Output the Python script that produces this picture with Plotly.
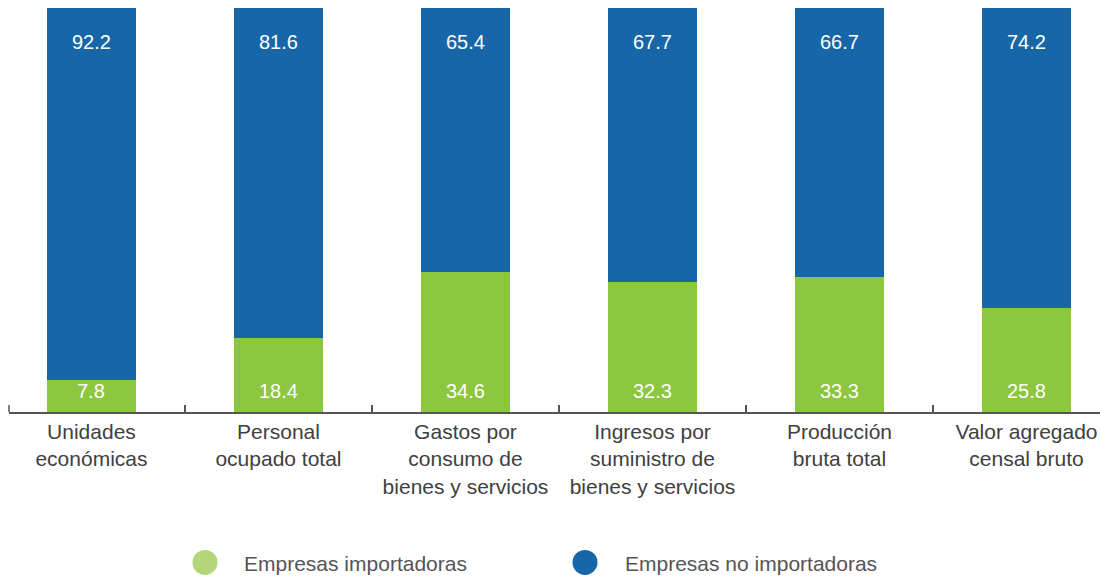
import plotly.graph_objects as go

categories = ["Unidades<br>económicas", "Personal<br>ocupado total",
              "Gastos por<br>consumo de<br>bienes y servicios",
              "Ingresos por<br>suministro de<br>bienes y servicios",
              "Producción<br>bruta total", "Valor agregado<br>censal bruto"]
importadoras = [7.8, 18.4, 34.6, 32.3, 33.3, 25.8]
no_importadoras = [92.2, 81.6, 65.4, 67.7, 66.7, 74.2]

GREEN = "#8dc63f"
BLUE = "#1766a7"
LEG_GREEN = "#b3d67b"
FONT = "Liberation Sans, Arial, sans-serif"

W, H = 1100, 576
L, T, B = 9, 8, 164.3
PW, PH = W - L, H - T - B

fig = go.Figure()
fig.add_trace(go.Bar(x=categories, y=importadoras, marker_color=GREEN,
                     marker_line_width=0, width=0.476, name="Empresas importadoras",
                     showlegend=False, hoverinfo="skip"))
fig.add_trace(go.Bar(x=categories, y=no_importadoras, marker_color=BLUE,
                     marker_line_width=0, width=0.476, name="Empresas no importadoras",
                     showlegend=False, hoverinfo="skip"))

anns = []
for c, g, b in zip(categories, importadoras, no_importadoras):
    anns.append(dict(x=c, y=5.1, text=f"{g}", showarrow=False, xref="x", yref="y",
                     font=dict(family=FONT, size=20, color="white")))
    anns.append(dict(x=c, y=91.6, text=f"{b}", showarrow=False, xref="x", yref="y",
                     font=dict(family=FONT, size=20, color="white")))

# legend drawn manually (pixel positions relative to the figure)
legend_items = [("Empresas importadoras", LEG_GREEN, 205, 242),
                ("Empresas no importadoras", BLUE, 585, 623)]
shapes = []
cy = 562
for label, col, cx, tx in legend_items:
    shapes.append(dict(type="circle", xref="paper", yref="paper",
                       x0=(cx - 12.5 - L) / PW, x1=(cx + 12.5 - L) / PW,
                       y0=(T + PH - cy - 12.5) / PH, y1=(T + PH - cy + 12.5) / PH,
                       fillcolor=col, line_width=0))
    anns.append(dict(x=(tx - L) / PW, y=(T + PH - cy - 1) / PH, xref="paper", yref="paper",
                     text=label, showarrow=False, xanchor="left", yanchor="middle",
                     font=dict(family=FONT, size=21, color="#555555")))

# left end tick
shapes.append(dict(type="line", xref="paper", yref="paper", x0=0, x1=0,
                   y0=0, y1=7 / PH, line=dict(color="#555555", width=1.5)))

fig.update_layout(
    width=W, height=H,
    margin=dict(l=L, r=0, t=T, b=B),
    paper_bgcolor="white", plot_bgcolor="white",
    barmode="stack", bargap=0,
    showlegend=False,
    annotations=anns, shapes=shapes,
    xaxis=dict(type="category", range=[-0.441, 5.393], tickson="boundaries",
               ticks="inside", ticklen=7, tickwidth=1.5, tickcolor="#555555",
               showline=True, linecolor="#555555", linewidth=1.5,
               showgrid=False, zeroline=False, fixedrange=True,
               tickfont=dict(family=FONT, size=21, color="#404040")),
    yaxis=dict(range=[0, 100], visible=False, showgrid=False, zeroline=False,
               fixedrange=True),
)

fig.write_html("out.html",
               config={"displayModeBar": False},
               post_script="document.body.style.margin='0';"
                           "document.body.style.overflow='hidden';")
